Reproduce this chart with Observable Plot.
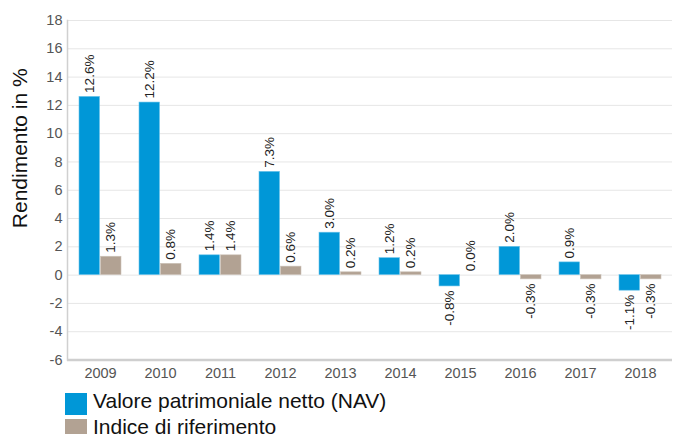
<!DOCTYPE html>
<html>
<head>
<meta charset="utf-8">
<script src="https://cdn.jsdelivr.net/npm/d3@7"></script>
<script src="https://cdn.jsdelivr.net/npm/@observablehq/plot@0.6"></script>
<style>
  body { margin: 0; background: #fff; font-family: "Liberation Sans", Arial, sans-serif; }
  #chart { position: relative; width: 675px; height: 434px; overflow: hidden; }
  .legend { position: absolute; left: 65px; top: 393px; }
  .legend .row { display: flex; align-items: flex-start; height: 26px; }
  .legend .sw { width: 22px; height: 22px; margin-right: 6px; }
  .legend .lbl { font-size: 21px; color: #111; line-height: 21px; position: relative; top: -3px; white-space: nowrap; }
</style>
</head>
<body>
<div id="chart"></div>
<script>
const years = ["2009","2010","2011","2012","2013","2014","2015","2016","2017","2018"];
const navValues = [12.6, 12.2, 1.4, 7.3, 3.0, 1.2, -0.8, 2.0, 0.9, -1.1];
const indexValues = [1.3, 0.8, 1.4, 0.6, 0.2, 0.2, 0.0, -0.3, -0.3, -0.3];
const seriesNames = ["Valore patrimoniale netto (NAV)", "Indice di riferimento"];
const seriesColors = ["#0097d7", "#b2a293"];
const yTicks = [-6, -4, -2, 0, 2, 4, 6, 8, 10, 12, 14, 16, 18];

const nav = years.map((y, i) => ({year: y, value: navValues[i]}));
const idx = years.map((y, i) => ({year: y, value: indexValues[i]}));
const fmt = v => v.toFixed(1) + "%";

const W = 675, H = 393;
const labelFont = 13.5;

function labels(data, dx) {
  return [
    Plot.text(data.filter(d => d.value >= 0), {
      x: "year", y: "value", text: d => fmt(d.value), rotate: -90,
      textAnchor: "start", dx, dy: -4, fontSize: labelFont, fill: "#222"
    }),
    Plot.text(data.filter(d => d.value < 0), {
      x: "year", y: "value", text: d => fmt(d.value), rotate: -90,
      textAnchor: "end", dx, dy: 4, fontSize: labelFont, fill: "#222"
    })
  ];
}

const plot = Plot.plot({
  width: W,
  height: H,
  marginTop: 20,
  marginBottom: 33.5,
  marginLeft: 67,
  marginRight: 3,
  style: { fontFamily: "'Liberation Sans', Arial, sans-serif", background: "transparent" },
  x: { domain: years, paddingInner: 0.3, paddingOuter: 0.165, label: null, tickSize: 0 },
  y: { domain: [-6, 18], ticks: yTicks, label: null, tickSize: 0 },
  marks: [
    Plot.ruleY(yTicks, { stroke: "#e6e6e6", strokeWidth: 1 }),
    Plot.barY(nav, { x: "year", y: "value", fill: seriesColors[0], insetLeft: 0, insetRight: 21.5, stroke: "#6cc4ea", strokeWidth: 0.6 }),
    Plot.barY(idx, { x: "year", y: "value", fill: seriesColors[1], insetLeft: 21.5, insetRight: 0, stroke: "#cdc3b9", strokeWidth: 0.6 }),
    ...labels(nav, -10.5),
    ...labels(idx, 10.5),
    Plot.axisY({ ticks: yTicks, tickSize: 0, tickPadding: 5, fontSize: 14.5, color: "#555", label: null, tickFormat: d => String(d) }),
    Plot.axisX({ tickSize: 0, tickPadding: 8, fontSize: 14.5, color: "#555", label: null }),
    Plot.ruleY([-6], { stroke: "#cfcfcf", strokeWidth: 2.5 }),
    Plot.frame({ anchor: "left", stroke: "#d0d0d0", strokeWidth: 1.5 }),
    Plot.text(["Rendimento in %"], { frameAnchor: "left", textAnchor: "middle", rotate: -90, dx: -47, dy: -42, fontSize: 21, fill: "#111" })
  ]
});

const chart = document.getElementById("chart");
chart.appendChild(plot);

const legend = document.createElement("div");
legend.className = "legend";
seriesNames.forEach((name, i) => {
  const row = document.createElement("div");
  row.className = "row";
  const sw = document.createElement("div");
  sw.className = "sw";
  sw.style.background = seriesColors[i];
  const lbl = document.createElement("div");
  lbl.className = "lbl";
  lbl.textContent = name;
  row.appendChild(sw);
  row.appendChild(lbl);
  legend.appendChild(row);
});
chart.appendChild(legend);
</script>
</body>
</html>
